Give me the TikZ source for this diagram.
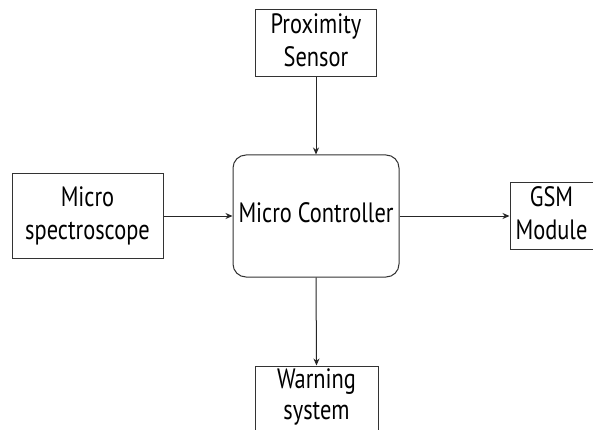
\documentclass[tikz,border=0pt]{standalone}
\usepackage{fontspec}
\setmainfont{PT Sans}
\usepackage{graphicx}
\usetikzlibrary{arrows.meta}
\newcommand{\lbl}[1]{\scalebox{0.8}[1]{\begin{tabular}{@{}c@{}}#1\end{tabular}}}
\tikzset{
  blk/.style={draw=black!80, line width=1pt, fill=white, inner sep=0pt,
    font=\fontsize{28}{33}\selectfont, align=center},
  conn/.style={draw=black!85, line width=1pt, -{Stealth[length=7pt,width=6pt]}}
}
\begin{document}
\begin{tikzpicture}[x=1pt,y=-1pt]
\clip (0,0) rectangle (593,430);
\fill[white] (0,0) rectangle (593,430);
\node[blk, minimum width=121pt, minimum height=67pt] (prox) at (316,43.5) {\lbl{Proximity\\Sensor}};
\node[blk, rounded corners=13pt, minimum width=166pt, minimum height=122pt] (mc) at (316,216) {\lbl{Micro Controller}};
\node[blk, minimum width=151pt, minimum height=84pt] (spec) at (87.5,216) {\lbl{Micro\\spectroscope}};
\node[blk, minimum width=83pt, minimum height=66pt] (gsm) at (551.5,216) {\lbl{GSM\\Module}};
\node[blk, minimum width=123pt, minimum height=90pt] (warn) at (316.5,411) {};
\node[font=\fontsize{28}{31}\selectfont, inner sep=0pt, anchor=center] (wtxt) at (316.5,398) {\lbl{Warning\\system}};
\draw[conn] (prox.south) -- (mc.north);
\draw[conn] (spec.east) -- (mc.west);
\draw[conn] (mc.east) -- (gsm.west);
\draw[conn] (mc.south) -- (warn.north);
\end{tikzpicture}
\end{document}
